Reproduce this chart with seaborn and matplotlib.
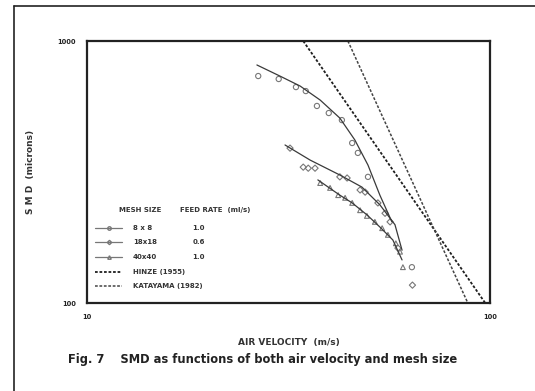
import numpy as np
import pandas as pd
import matplotlib
matplotlib.use("Agg")
import matplotlib.pyplot as plt
import matplotlib.ticker as ticker
from matplotlib.lines import Line2D
import seaborn as sns

# fitted curves (air velocity m/s, SMD microns)
curve_8_v = [26.4, 30.1, 33.8, 37.9, 42.4, 46.2, 49.8, 53.3, 57.1]
curve_8_d = [810, 735, 673, 595, 508, 419, 336, 258, 204]
curve_18_v = [31.0, 35.8, 42.4, 48.1, 53.3, 58.1, 60.5]
curve_18_d = [401, 351, 308, 277, 237, 199, 159]
curve_40_v = [37.4, 42.4, 45.5, 49.5, 53.3, 57.4, 60.5]
curve_40_d = [295, 258, 241, 217, 195, 174, 146]

# measured points
pts_8_v = [26.6, 29.9, 33.0, 34.9, 37.2, 39.8, 42.9, 45.5, 47.0, 49.8, 64.0]
pts_8_d = [735, 716, 667, 644, 565, 531, 499, 408, 374, 303, 137]
pts_18_v = [31.9, 34.4, 35.4, 36.8, 42.4, 44.2, 47.6, 49.0, 52.7, 54.9, 56.5, 59.1, 64.2]
pts_18_d = [390, 330, 327, 327, 303, 300, 270, 265, 241, 220, 204, 162, 117]
pts_40_v = [37.9, 40.1, 42.0, 43.7, 45.5, 47.6, 49.5, 51.8, 54.0, 55.8, 58.4, 59.8, 60.8]
pts_40_d = [287, 275, 258, 252, 241, 226, 215, 204, 193, 182, 169, 157, 137]

# correlations (straight lines on log-log)
hinze_v = [34.4, 97.3]
hinze_d = [1000, 100]
katayama_v = [44.4, 88.1]
katayama_d = [1000, 100]

mesh_labels = ["8 x 8", "18x18", "40x40"]
feed_rates = ["1.0", "0.6", "1.0"]
corr_labels = ["HINZE (1955)", "KATAYAMA (1982)"]

sns.set_style("white")
plt.rcParams['font.family'] = ['DejaVu Sans']

fig = plt.figure(figsize=(5.35, 3.91), dpi=100)
ax = fig.add_axes([87/535, 1-303/391, 403/535, 262/391])

ink = "#3a3a3a"
lt = "#777777"
hz_style = dict(color="#1e1e1e", lw=1.3, ls=(0, (1.5, 1.0)))
kt_style = dict(color="#444444", lw=1.1, ls=(0, (1.8, 1.1)))

sns.lineplot(x=curve_8_v, y=curve_8_d, ax=ax, color=ink, lw=0.9, sort=False)
sns.lineplot(x=curve_18_v, y=curve_18_d, ax=ax, color=ink, lw=0.9, sort=False)
sns.lineplot(x=curve_40_v, y=curve_40_d, ax=ax, color=ink, lw=0.9, sort=False)
ax.plot(hinze_v, hinze_d, **hz_style)
ax.plot(katayama_v, katayama_d, **kt_style)

sns.scatterplot(x=pts_8_v, y=pts_8_d, ax=ax, marker="o", s=14,
                facecolor="none", edgecolor=lt, linewidth=0.8)
sns.scatterplot(x=pts_18_v, y=pts_18_d, ax=ax, marker="D", s=10,
                facecolor="none", edgecolor=lt, linewidth=0.8)
sns.scatterplot(x=pts_40_v, y=pts_40_d, ax=ax, marker="^", s=12,
                facecolor="none", edgecolor=lt, linewidth=0.8)

ax.set_xscale("log")
ax.set_yscale("log")
ax.set_xlim(10, 100)
ax.set_ylim(100, 1000)
ax.xaxis.set_major_locator(ticker.FixedLocator([10, 100]))
ax.yaxis.set_major_locator(ticker.FixedLocator([100, 1000]))
ax.xaxis.set_major_formatter(ticker.FixedFormatter(["10", "100"]))
ax.yaxis.set_major_formatter(ticker.FixedFormatter(["100", "1000"]))
ax.xaxis.set_minor_locator(ticker.LogLocator(subs=np.arange(2, 10)))
ax.yaxis.set_minor_formatter(ticker.NullFormatter())
ax.xaxis.set_minor_formatter(ticker.NullFormatter())
ax.yaxis.set_minor_locator(ticker.NullLocator())
ax.tick_params(which="major", length=0, pad=8, labelsize=4.8, colors="#222222")
ax.tick_params(which="minor", axis="x", direction="in", length=2, width=0.5, color="#888888")
for lab in ax.get_xticklabels() + ax.get_yticklabels():
    lab.set_fontweight("bold")
for sp in ax.spines.values():
    sp.set_linewidth(1.6)
    sp.set_color("#222222")

ax.set_ylabel("S M D  (microns)", fontsize=6.5, fontweight="bold", color="#333333", labelpad=16)
ax.set_xlabel("AIR VELOCITY  (m/s)", fontsize=6.5, fontweight="bold", color="#333333", labelpad=13)

# legend block, laid out like the scanned key
txt = dict(transform=ax.transAxes, fontsize=5, fontweight="bold", color="#333333", va="center")
ax.text(0.080, 0.355, "MESH SIZE", **txt)
ax.text(0.231, 0.355, "FEED RATE  (ml/s)", **txt)
row_y = [0.286, 0.233, 0.176, 0.118, 0.065]
row_labels = mesh_labels + corr_labels
handle_styles = [
    dict(color=lt, lw=0.9, marker="o", ms=2.5, mfc="none"),
    dict(color=lt, lw=0.9, marker="D", ms=2.2, mfc="none"),
    dict(color=lt, lw=0.9, marker="^", ms=2.5, mfc="none"),
    hz_style,
    kt_style,
]
for y, lab, st in zip(row_y, row_labels, handle_styles):
    if "marker" in st:
        h = Line2D([0.020, 0.0535, 0.087], [y, y, y], transform=ax.transAxes,
                   markevery=[1], **st)
    else:
        h = Line2D([0.020, 0.087], [y, y], transform=ax.transAxes, **st)
    ax.add_artist(h)
    ax.text(0.114, y, lab, **txt)
for y, fr in zip(row_y, feed_rates):
    ax.text(0.262, y, fr, **txt)

fig.text(263/535, 1-360/391, "Fig. 7    SMD as functions of both air velocity and mesh size",
         ha="center", va="center", fontsize=8.3, fontweight="bold", color="#222222")

# page border from the scan
fig.add_artist(Line2D([14/535, 14/535], [0, 1-6/391], transform=fig.transFigure, color="#222222", lw=1.2))
fig.add_artist(Line2D([14/535, 1], [1-6/391, 1-6/391], transform=fig.transFigure, color="#222222", lw=1.2))

fig.savefig("out.png", dpi=100)
